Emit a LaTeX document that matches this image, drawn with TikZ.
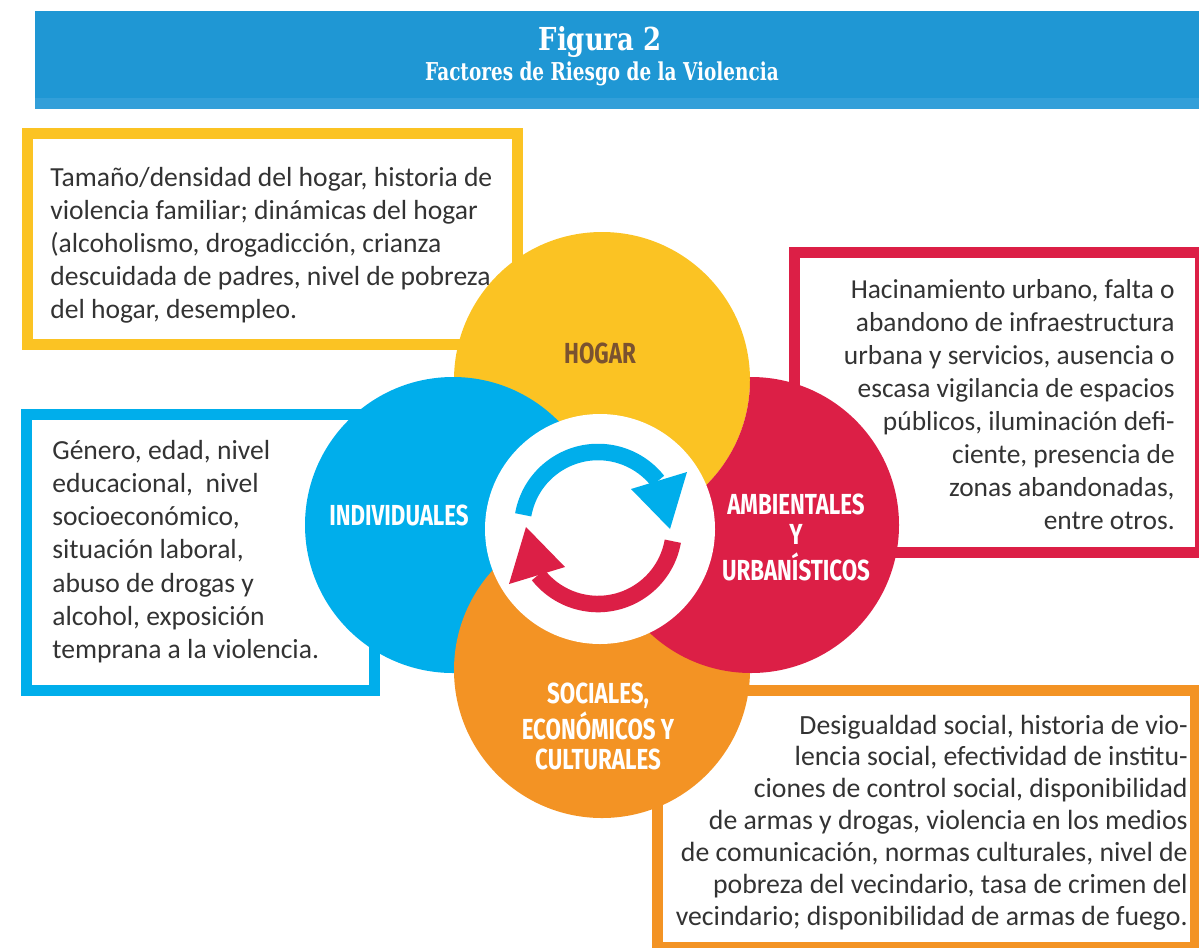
\documentclass[tikz,border=0pt]{standalone}
\usepackage{fontspec}
\setmainfont{Carlito}
\newfontfamily\labelfont[FakeStretch=0.77]{Fira Sans}
\newfontfamily\titlefont[FakeStretch=0.82]{DejaVu Serif}
\newfontfamily\subtitlefont[FakeStretch=0.75]{DejaVu Serif}

\definecolor{hdrblue}{HTML}{1F97D4}
\definecolor{hdrband}{HTML}{329FD9}
\definecolor{hogarylw}{HTML}{FBC323}
\definecolor{indivcyan}{HTML}{00AEEB}
\definecolor{ambred}{HTML}{DC1F46}
\definecolor{socorange}{HTML}{F39324}
\definecolor{labelbrown}{HTML}{7A5230}
\definecolor{bodygray}{HTML}{333333}

\begin{document}
\begin{tikzpicture}[x=0.02cm, y=-0.02cm,
  frame/.style={line width=6.26pt},
  cycle arrow/.style={line width=9.4pt},
  body/.style={inner sep=0pt, text=bodygray},
  factor/.style={inner sep=0pt, text=white,
    font=\labelfont\bfseries\fontsize{16.5}{17.1}\selectfont}]
\useasboundingbox (0,0) rectangle (1199,947);

% title bar
\fill[hdrblue] (35,11) rectangle (1199,109);
\fill[hdrband] (35,98) rectangle (1199,109);
\node[inner sep=0pt, text=white, anchor=base,
  font=\titlefont\bfseries\fontsize{18}{20}\selectfont] (fig) at (600,50) {Figura 2};
\node[inner sep=0pt, text=white, anchor=base,
  font=\subtitlefont\bfseries\fontsize{14}{16}\selectfont] (sub) at (602,80)
  {Factores de Riesgo de la Violencia};

% description frames
\draw[frame, hogarylw]  (27.5,133.5) rectangle (517.5,344.5);
\draw[frame, indivcyan] (26.5,414.5) rectangle (374.5,690.5);
\draw[frame, ambred]    (794.5,252.5) rectangle (1200.5,552.5);
\draw[frame, socorange] (657.5,690.5) rectangle (1195.5,947.5);

% the four factor discs, each one lying over the next round the ring
\coordinate (cY) at (602,380);
\coordinate (cB) at (453,525);
\coordinate (cO) at (602,670);
\coordinate (cR) at (751,525);
\fill[hogarylw]  (cY) circle (148);
\fill[indivcyan] (cB) circle (148);
\fill[socorange] (cO) circle (148);
\begin{scope}[even odd rule]
  \clip (0,0) rectangle (1199,947) (cY) circle (148);
  \fill[ambred] (cR) circle (148);
\end{scope}

% centre disc with the cycle arrows
\fill[white] (600,529) circle (115);
\draw[cycle arrow, indivcyan] (523.2,514.8) arc[start angle=190, end angle=321.8, radius=76];
\fill[indivcyan] (631,489) -- (687,472) -- (670,529) -- cycle;
\draw[cycle arrow, ambred] (672.8,541.2) arc[start angle=10, end angle=141.8, radius=76];
\fill[ambred] (565,567) -- (509,584) -- (526,527) -- cycle;

% factor labels
\node[factor, text=labelbrown, anchor=base] (hogar) at (600,363) {HOGAR};
\node[factor, anchor=base] (indiv) at (399,525) {INDIVIDUALES};
\node[factor, anchor=base] (amb) at (796,514)
  {\begin{tabular}[t]{@{}c@{}}AMBIENTALES\\Y\\URBANÍSTICOS\end{tabular}};
\node[factor, anchor=base] (soc) at (598,703)
  {\begin{tabular}[t]{@{}c@{}}SOCIALES,\\ECONÓMICOS Y\\CULTURALES\end{tabular}};

% descriptions
\node[body, anchor=base west, font=\fontsize{15.7}{18.8}\selectfont] (hogartxt) at (50,186)
  {\begin{tabular}[t]{@{}l@{}}
   Tamaño/densidad del hogar, historia de\\
   violencia familiar; dinámicas del hogar\\
   (alcoholismo, drogadicción, crianza\\
   descuidada de padres, nivel de pobreza\\
   del hogar, desempleo.\end{tabular}};
\node[body, anchor=base west, font=\fontsize{15.7}{18.95}\selectfont] (indivtxt) at (52,459)
  {\begin{tabular}[t]{@{}l@{}}
   Género, edad, nivel\\
   educacional,~ nivel\\
   socioeconómico,\\
   situación laboral,\\
   abuso de drogas y\\
   alcohol, exposición\\
   temprana a la violencia.\end{tabular}};
\node[body, anchor=base east, font=\fontsize{15.6}{18.8}\selectfont] (ambtxt) at (1175,298)
  {\begin{tabular}[t]{@{}r@{}}
   Hacinamiento urbano, falta o\\
   abandono de infraestructura\\
   urbana y servicios, ausencia o\\
   escasa vigilancia de espacios\\
   públicos, iluminación defi-\\
   ciente, presencia de\\
   zonas abandonadas,\\
   entre otros.\end{tabular}};
\node[body, anchor=base east, font=\fontsize{15.8}{18.2}\selectfont] (soctxt) at (1188,734)
  {\begin{tabular}[t]{@{}r@{}}
   Desigualdad social, historia de vio-\\
   lencia social, efectividad de institu-\\
   ciones de control social, disponibilidad\\
   de armas y drogas, violencia en los medios\\
   de comunicación, normas culturales, nivel de\\
   pobreza del vecindario, tasa de crimen del\\
   vecindario; disponibilidad de armas de fuego.\end{tabular}};
\end{tikzpicture}
\end{document}
